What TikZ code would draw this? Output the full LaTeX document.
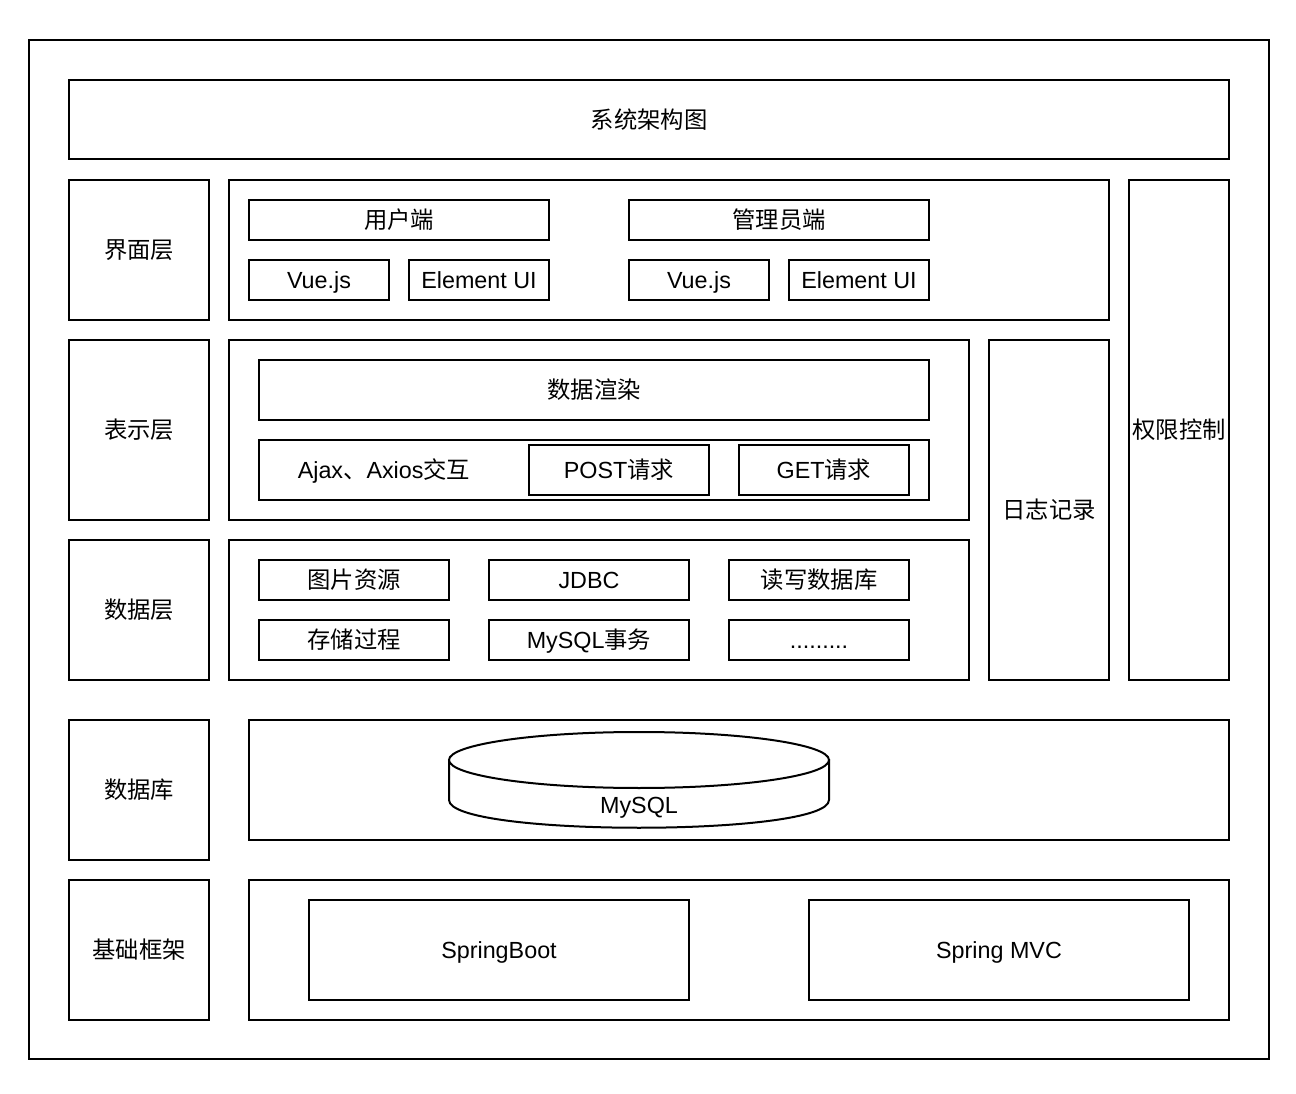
\documentclass[tikz,border=0pt]{standalone}
\usepackage{fontspec}
\setmainfont{Liberation Sans}
\newfontfamily\cjk{Noto Sans CJK SC}
\tikzset{
  box/.style={draw=black, line width=1.5pt, fill=white, inner sep=0pt, outer sep=0pt, font=\fontsize{17.5}{20}\selectfont, align=center, text height=12.8pt, text depth=0pt},
  lbl/.style={inner sep=0pt, font=\fontsize{17.5}{20}\selectfont, text height=12.8pt, text depth=0pt},
}
\newcommand\bx[6]{\node[box, minimum width={(#4-#2)*0.75pt}, minimum height={(#5-#3)*0.75pt}] (#1) at ({(#2+#4)/2},{(#3+#5)/2}) {#6};}
\begin{document}
\begin{tikzpicture}[x=0.75pt,y=-0.75pt]
\useasboundingbox (0,0) rectangle (1296,1094);
\bx{outer}{29}{40}{1269}{1059}{}
\bx{title}{69}{80}{1229}{159}{\cjk 系统架构图}
% UI layer
\bx{uiL}{69}{180}{209}{320}{\cjk 界面层}
\bx{uiC}{229}{180}{1109}{320}{}
\bx{user}{249}{200}{549}{240}{\cjk 用户端}
\bx{vue1}{249}{260}{389}{300}{Vue.js}
\bx{el1}{409}{260}{549}{300}{Element UI}
\bx{admin}{629}{200}{929}{240}{\cjk 管理员端}
\bx{vue2}{629}{260}{769}{300}{Vue.js}
\bx{el2}{789}{260}{929}{300}{Element UI}
\bx{perm}{1129}{180}{1229}{680}{\cjk 权限控制}
% presentation
\bx{prL}{69}{340}{209}{520}{\cjk 表示层}
\bx{prC}{229}{340}{969}{520}{}
\bx{render}{259}{360}{929}{420}{\cjk 数据渲染}
\bx{ajaxC}{259}{440}{929}{500}{}
\node[lbl] (ajax) at (384,470) {Ajax{\cjk 、}Axios{\cjk 交互}};
\bx{post}{529}{445}{709}{495}{POST{\cjk 请求}}
\bx{get}{739}{445}{909}{495}{GET{\cjk 请求}}
\bx{log}{989}{340}{1109}{680}{\cjk 日志记录}
% data layer
\bx{daL}{69}{540}{209}{680}{\cjk 数据层}
\bx{daC}{229}{540}{969}{680}{}
\bx{img}{259}{560}{449}{600}{\cjk 图片资源}
\bx{jdbc}{489}{560}{689}{600}{JDBC}
\bx{rw}{729}{560}{909}{600}{\cjk 读写数据库}
\bx{proc}{259}{620}{449}{660}{\cjk 存储过程}
\bx{tx}{489}{620}{689}{660}{MySQL{\cjk 事务}}
\bx{dots}{729}{620}{909}{660}{.........}
% database
\bx{dbL}{69}{720}{209}{860}{\cjk 数据库}
\bx{dbC}{249}{720}{1229}{840}{}
\draw[line width=1.5pt, fill=white] (449,760) -- (449,800) .. controls (449,837) and (829,837) .. (829,800) -- (829,760) -- cycle;
\draw[line width=1.5pt, fill=white] (639,760) ellipse [x radius=190, y radius=28];
\node[lbl] (mysql) at (639,805) {MySQL};
% framework
\bx{fwL}{69}{880}{209}{1020}{\cjk 基础框架}
\bx{fwC}{249}{880}{1229}{1020}{}
\bx{sb}{309}{900}{689}{1000}{SpringBoot}
\bx{mvc}{809}{900}{1189}{1000}{Spring MVC}
\end{tikzpicture}
\end{document}
